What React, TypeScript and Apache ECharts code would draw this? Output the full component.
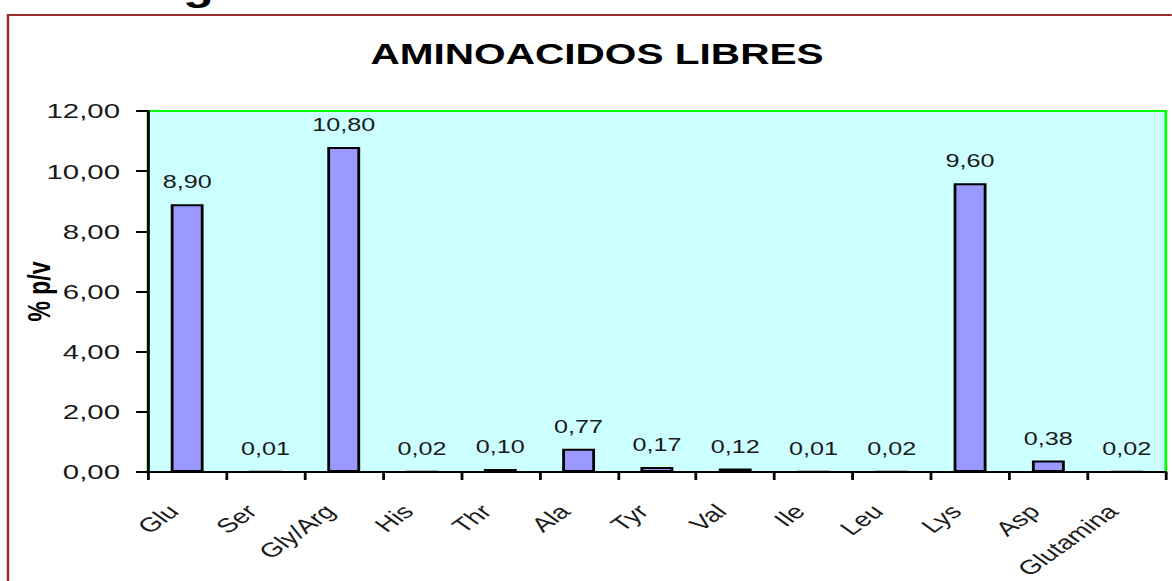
import React, { useEffect, useRef } from "react";
import * as echarts from "echarts";

const categories = ["Glu", "Ser", "Gly/Arg", "His", "Thr", "Ala", "Tyr", "Val", "Ile", "Leu", "Lys", "Asp", "Glutamina"];
const values = [8.9, 0.01, 10.8, 0.02, 0.1, 0.77, 0.17, 0.12, 0.01, 0.02, 9.6, 0.38, 0.02];
const titleText = "AMINOACIDOS LIBRES";
const yAxisName = "% p/v";

const fmt = (v: number) => v.toFixed(2).replace(".", ",");

// The reference is horizontally stretched; draw at a narrower width and stretch.
const SX = 1.4;
const W = 1172 / SX;
const H = 581;

export default function App() {
  const ref = useRef<HTMLDivElement>(null);
  useEffect(() => {
    if (!ref.current) return;
    const chart = echarts.init(ref.current, null, { renderer: "svg" });
    const font = "'Liberation Sans', Arial, sans-serif";
    chart.setOption({
      animation: false,
      backgroundColor: "#ffffff",
      textStyle: { fontFamily: font },
      title: {
        text: titleText,
        left: 590 / SX,
        textAlign: "center",
        top: 34,
        textStyle: { fontSize: 29, fontWeight: "bold", color: "#000", fontFamily: font },
      },
      graphic: [
        {
          type: "rect",
          shape: { x: 8 / SX, y: 15, width: 1000, height: 700 },
          style: { fill: "none", stroke: "#9B2C2C", lineWidth: 1.8 },
          z: 0,
        },
        {
          type: "text",
          x: 183 / SX,
          y: -31,
          style: { text: "g", font: "bold 36px 'Liberation Sans', Arial, sans-serif", fill: "#000" },
        },
      ],
      grid: {
        left: 148 / SX,
        top: 111,
        right: 6 / SX,
        bottom: 109,
        show: true,
        containLabel: false,
        outerBoundsMode: "none",
        backgroundColor: "#CCFFFF",
        borderColor: "#00FF00",
        borderWidth: 2,
      },
      xAxis: {
        type: "category",
        data: categories,
        boundaryGap: true,
        axisLine: { show: true, lineStyle: { color: "#000", width: 2 } },
        axisTick: { show: true, alignWithLabel: false, length: 8, lineStyle: { color: "#000", width: 2 } },
        axisLabel: {
          rotate: 45,
          fontSize: 20,
          color: "#1a1a1a",
          margin: 26,
          padding: [0, 14, 0, 0],
          interval: 0,
          fontFamily: font,
        },
      },
      yAxis: {
        type: "value",
        min: 0,
        max: 12,
        interval: 2,
        name: yAxisName,
        nameLocation: "middle",
        nameGap: 66,
        nameMoveOverlap: false,
        nameRotate: 90,
        nameTextStyle: { fontSize: 23, fontWeight: "bold", color: "#000", fontFamily: font },
        splitLine: { show: false },
        axisLine: { show: true, lineStyle: { color: "#000", width: 2 } },
        axisTick: { show: true, length: 8.5, lineStyle: { color: "#000", width: 2 } },
        axisLabel: { fontSize: 21, color: "#1a1a1a", margin: 20, formatter: (v: number) => fmt(v), fontFamily: font },
      },
      series: [
        {
          type: "bar",
          data: values,
          barWidth: "42%",
          itemStyle: { color: "#9999FF", borderColor: "#000", borderWidth: 2 },
          label: {
            show: true,
            position: "top",
            distance: 13,
            fontSize: 18,
            color: "#1a1a1a",
            fontFamily: font,
            formatter: (p: any) => fmt(p.value),
          },
        },
      ],
    });
    return () => chart.dispose();
  }, []);
  return (
    <div
      ref={ref}
      style={{
        position: "fixed",
        left: 0,
        top: 0,
        width: W,
        height: H,
        transform: `scaleX(${SX})`,
        transformOrigin: "0 0",
      }}
    />
  );
}
